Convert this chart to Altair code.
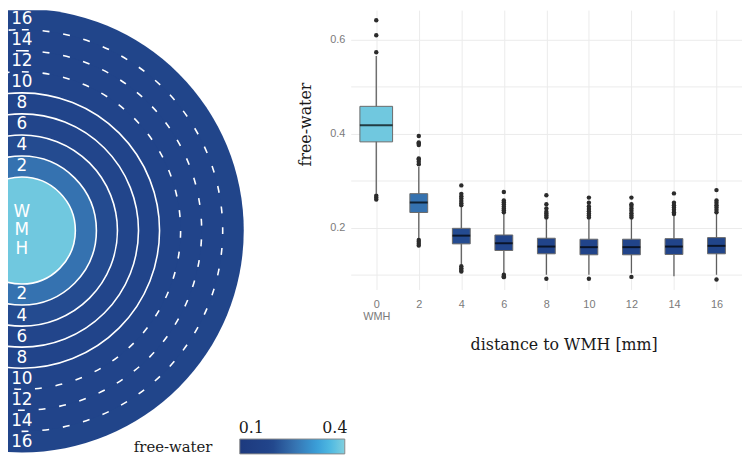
import altair as alt
import pandas as pd

# ---------------- data ----------------
distance = [0, 2, 4, 6, 8, 10, 12, 14, 16]
median = [0.418, 0.2535, 0.1832, 0.167, 0.160, 0.1587, 0.1587, 0.160, 0.1615]
q1 = [0.3825, 0.2324, 0.1657, 0.1516, 0.1446, 0.1425, 0.1425, 0.1432, 0.1446]
q3 = [0.458, 0.2724, 0.1987, 0.1846, 0.1777, 0.1756, 0.1756, 0.1768, 0.179]
whisker_lo = [0.272, 0.178, 0.122, 0.103, 0.100, 0.100, 0.103, 0.097, 0.100]
whisker_hi = [0.565, 0.329, 0.245, 0.230, 0.220, 0.220, 0.219, 0.226, 0.230]
outliers = {
    0: [0.641, 0.609, 0.573, 0.268, 0.264, 0.260],
    2: [0.335, 0.340, 0.345, 0.347, 0.376, 0.379, 0.381, 0.395, 0.174, 0.170, 0.166, 0.162],
    4: [0.248, 0.252, 0.257, 0.262, 0.267, 0.272, 0.290, 0.118, 0.114, 0.110, 0.107],
    6: [0.233, 0.237, 0.241, 0.245, 0.250, 0.254, 0.258, 0.276, 0.100, 0.097, 0.095],
    8: [0.222, 0.226, 0.230, 0.234, 0.241, 0.250, 0.269, 0.0914],
    10: [0.222, 0.226, 0.230, 0.235, 0.240, 0.245, 0.253, 0.264, 0.0914],
    12: [0.222, 0.226, 0.231, 0.236, 0.241, 0.246, 0.250, 0.264, 0.0955],
    14: [0.229, 0.233, 0.238, 0.243, 0.248, 0.253, 0.273],
    16: [0.233, 0.238, 0.243, 0.248, 0.253, 0.258, 0.280, 0.090],
}
center_label = "WMH"
legend_values = [0.1, 0.4]
x_title = "distance to WMH [mm]"
y_title = "free-water"

# ---------------- styling / layout constants ----------------
SERIF = "DejaVu Serif"
SANS = "Liberation Sans"
PX = 10.625            # pixels per mm in the ring diagram
R0 = 54 / PX           # radius of the WMH disc, in mm units
LEFT_W, LEFT_H = 240, 450
CX, CY = 14, 222.5     # centre of the ring diagram inside the left panel (px)
RIGHT_W, RIGHT_H = 395, 282
FULL = 6.2832          # a little over 2*pi -> full circle

color_scale = alt.Scale(
    type="linear",
    domain=[0.059, 0.175, 0.25, 0.335, 0.386, 0.4355],
    range=["#1d3a7e", "#22468c", "#3570ae", "#3a9ed8", "#50bae2", "#82d0de"],
    interpolate="rgb",
)

legend = alt.Legend(
    orient="none", legendX=127, legendY=433, direction="horizontal",
    gradientLength=106, gradientThickness=15, values=legend_values, format=".1f",
    title="free-water", titleOrient="left", titleFont=SERIF, titleFontSize=15,
    titleFontWeight="normal", titleColor="#1a1a1a", titlePadding=27,
    titleBaseline="middle", titleAnchor="middle",
    labelFont=SERIF, labelFontSize=16, labelColor="#1a1a1a",
    labelOffset={"expr": "-34"}, labelAlign="center",
    gradientStrokeColor="#8a8a8a", gradientStrokeWidth=1,
)

# ---------------- left: ring diagram ----------------
disc = pd.DataFrame({"d": distance, "fw": median}).iloc[::-1].reset_index(drop=True)

x_sc = alt.Scale(domain=[-CX / PX, (LEFT_W - CX) / PX], nice=False, zero=False)
y_sc = alt.Scale(domain=[-(LEFT_H - CY) / PX, CY / PX], nice=False, zero=False)
r_sc = alt.Scale(type="linear", domain=[0, 22], range=[0, 22 * PX], zero=True, nice=False)

base = alt.Chart(disc).transform_calculate(r=f"datum.d + {R0}", cx="0", cy="0")
enc = dict(
    x=alt.X("cx:Q", scale=x_sc, axis=None),
    y=alt.Y("cy:Q", scale=y_sc, axis=None),
    radius=alt.Radius("r:Q", scale=r_sc, stack=False),
)

fills = base.mark_arc(theta=0, theta2=FULL, clip=True, strokeWidth=0).encode(
    color=alt.Color("fw:Q", scale=color_scale, legend=legend),
    **enc,
)
solid = base.transform_filter("datum.d <= 8").mark_arc(
    theta=0, theta2=FULL, clip=True, filled=False, stroke="white", strokeWidth=1.6
).encode(**enc)
dashed = base.transform_filter("datum.d >= 10 && datum.d <= 14").mark_arc(
    theta=0, theta2=FULL, clip=True, filled=False, stroke="white", strokeWidth=1.6,
    strokeDash=[7, 14],
).encode(**enc)

ring_labels = base.transform_filter("datum.d > 0").transform_calculate(
    up=f"datum.d - 1 + {R0}", down=f"-(datum.d - 1 + {R0})", lab="format(datum.d, 'd')"
).transform_fold(["up", "down"], as_=["side", "ypos"]).mark_text(
    font="DejaVu Sans", fontSize=17, color="white", baseline="middle", align="center",
    clip=True,
).encode(
    x=alt.X("cx:Q", scale=x_sc, axis=None),
    y=alt.Y("ypos:Q", scale=y_sc, axis=None),
    text="lab:N",
)

wmh = alt.Chart(pd.DataFrame({"name": [center_label]})).transform_calculate(
    cx="0", cy="0", t="split(datum.name, '')"
).mark_text(
    font="DejaVu Sans", fontSize=17, color="white", baseline="middle", align="center",
    lineHeight=19, dy=-19, clip=True,
).encode(
    x=alt.X("cx:Q", scale=x_sc, axis=None),
    y=alt.Y("cy:Q", scale=y_sc, axis=None),
    text="t:N",
)

left = alt.layer(fills, solid, dashed, ring_labels, wmh).properties(width=LEFT_W, height=LEFT_H)

# ---------------- right: box plots ----------------
box = pd.DataFrame({"d": distance, "median": median, "q1": q1, "q3": q3,
                    "lo": whisker_lo, "hi": whisker_hi})
out_rows = [(d, v) for d in distance for v in outliers.get(d, [])]
out_df = pd.DataFrame(out_rows, columns=["d", "value"])

x_enc = alt.X(
    "d:O", scale=alt.Scale(type="point", padding=0.6),
    axis=alt.Axis(
        title=x_title, labelAngle=0, domain=False, ticks=False, grid=True,
        gridColor="#ebebeb", gridWidth=1,
        labelFont=SANS, labelFontSize=11, labelColor="#7a7a7a", labelPadding=9,
        labelLineHeight=12,
        labelExpr="datum.value == 0 ? ['0', 'WMH'] : datum.label",
        titleFont=SERIF, titleFontSize=16, titleFontWeight="normal", titleColor="#1a1a1a",
        titlePadding=16, titleX=215,
    ),
)
y_sc_r = alt.Scale(domain=[0.0688, 0.6625], nice=False, zero=False)
y_axis = alt.Axis(
    title=y_title, values=[0.1, 0.2, 0.3, 0.4, 0.5, 0.6], format=".1f",
    labelExpr="round(datum.value * 10) % 2 == 0 ? datum.label : ''",
    domain=False, ticks=False, grid=True, gridColor="#ebebeb", gridWidth=1,
    labelFont=SANS, labelFontSize=11, labelColor="#7a7a7a", labelPadding=6,
    titleFont=SERIF, titleFontSize=16, titleFontWeight="normal", titleColor="#1a1a1a",
    titlePadding=16, titleY=115,
)
size_cond = alt.condition("datum.d == 0", alt.value(33), alt.value(18))

bbase = alt.Chart(box)
whiskers = bbase.mark_rule(color="#5f5f5f", strokeWidth=1.3).encode(
    x=x_enc, y=alt.Y("lo:Q", scale=y_sc_r, axis=y_axis), y2="hi:Q"
)
boxes = bbase.mark_bar(stroke="#6a6a6a", strokeWidth=1).encode(
    x=x_enc, y=alt.Y("q1:Q", scale=y_sc_r, axis=y_axis), y2="q3:Q",
    color=alt.Color("median:Q", scale=color_scale, legend=None),
    size=size_cond,
)
medians = bbase.mark_tick(color="black", thickness=2).encode(
    x=x_enc, y=alt.Y("median:Q", scale=y_sc_r, axis=y_axis), size=size_cond,
)
points = alt.Chart(out_df).mark_circle(size=20, color="#2b2b2b", opacity=1).encode(
    x=x_enc, y=alt.Y("value:Q", scale=y_sc_r, axis=y_axis)
)

right = alt.layer(whiskers, boxes, medians, points).properties(width=RIGHT_W, height=RIGHT_H)

chart = alt.hconcat(left, right, spacing=52).resolve_scale(color="shared").properties(
    padding=0
).configure_view(stroke=None)

chart.save("out.html", embed_options={"renderer": "svg", "actions": False})
